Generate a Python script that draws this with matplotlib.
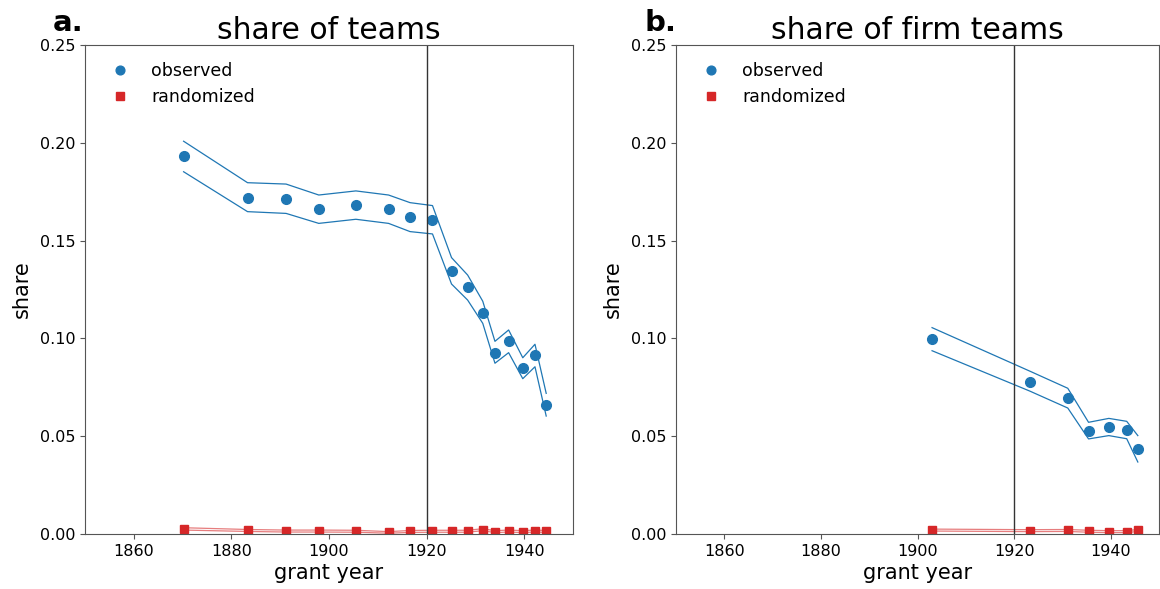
import matplotlib.pyplot as plt
import numpy as np

# panel a: share of teams
years_a = [1870.2, 1883.3, 1891.2, 1897.9, 1905.5, 1912.2, 1916.6, 1921.2,
           1925.1, 1928.4, 1931.5, 1934.0, 1936.8, 1939.7, 1942.2, 1944.5]
obs_a = [0.1931, 0.1719, 0.1714, 0.1660, 0.1680, 0.1660, 0.1619, 0.1607,
         0.1346, 0.1263, 0.1131, 0.0927, 0.0988, 0.0847, 0.0915, 0.0660]
obs_a_hi = [0.2008, 0.1796, 0.1789, 0.1733, 0.1754, 0.1733, 0.1694, 0.1679,
            0.1413, 0.1324, 0.1190, 0.0985, 0.1043, 0.0901, 0.0970, 0.0719]
obs_a_lo = [0.1852, 0.1648, 0.1639, 0.1588, 0.1609, 0.1588, 0.1546, 0.1534,
            0.1278, 0.1196, 0.1077, 0.0873, 0.0927, 0.0794, 0.0855, 0.0603]
rnd_a = [0.0026, 0.0018, 0.0015, 0.0015, 0.0014, 0.0008, 0.0013, 0.0014,
         0.0014, 0.0014, 0.0022, 0.0012, 0.0015, 0.0012, 0.0015, 0.0013]
rnd_a_hi = [0.0032, 0.0023, 0.0020, 0.0020, 0.0019, 0.0012, 0.0018, 0.0019,
            0.0019, 0.0019, 0.0027, 0.0017, 0.0020, 0.0017, 0.0020, 0.0018]
rnd_a_lo = [0.0020, 0.0013, 0.0010, 0.0010, 0.0009, 0.0004, 0.0008, 0.0009,
            0.0009, 0.0009, 0.0017, 0.0007, 0.0010, 0.0007, 0.0010, 0.0008]

# panel b: share of firm teams
years_b = [1903.0, 1923.2, 1931.1, 1935.4, 1939.6, 1943.3, 1945.6]
obs_b = [0.0995, 0.0779, 0.0694, 0.0528, 0.0549, 0.0532, 0.0436]
obs_b_hi = [0.1055, 0.0833, 0.0745, 0.0571, 0.0591, 0.0576, 0.0503]
obs_b_lo = [0.0937, 0.0731, 0.0644, 0.0486, 0.0503, 0.0487, 0.0368]
rnd_b = [0.0020, 0.0017, 0.0018, 0.0014, 0.0012, 0.0012, 0.0018]
rnd_b_hi = [0.0025, 0.0022, 0.0023, 0.0019, 0.0017, 0.0017, 0.0023]
rnd_b_lo = [0.0015, 0.0012, 0.0013, 0.0009, 0.0007, 0.0007, 0.0013]

panels = [
    ("a.", "share of teams", years_a, obs_a, obs_a_hi, obs_a_lo, rnd_a, rnd_a_hi, rnd_a_lo),
    ("b.", "share of firm teams", years_b, obs_b, obs_b_hi, obs_b_lo, rnd_b, rnd_b_hi, rnd_b_lo),
]

blue = "#1f77b4"
red = "#d62728"

fig = plt.figure(figsize=(11.6, 5.89), dpi=100)
positions = [[0.0733, 0.0934, 0.4207, 0.8302], [0.5828, 0.0934, 0.4164, 0.8302]]

for pos, (tag, title, yrs, obs, ohi, olo, rnd, rhi, rlo) in zip(positions, panels):
    ax = fig.add_axes(pos)
    ax.plot(yrs, ohi, color=blue, lw=0.9)
    ax.plot(yrs, olo, color=blue, lw=0.9)
    ax.plot(yrs, obs, "o", color=blue, ms=7, label="observed")
    ax.plot(yrs, rhi, color=red, lw=0.9, alpha=0.6)
    ax.plot(yrs, rlo, color=red, lw=0.9, alpha=0.6)
    ax.plot(yrs, rnd, "s", color=red, ms=6, label="randomized")
    ax.axvline(1920, color="#333333", lw=1)

    ax.set_xlim(1850, 1950)
    ax.set_ylim(0, 0.25)
    ax.set_xticks([1860, 1880, 1900, 1920, 1940])
    ax.set_yticks(np.arange(0, 0.26, 0.05))
    ax.set_yticklabels([f"{v:.2f}" for v in np.arange(0, 0.26, 0.05)])
    ax.tick_params(labelsize=11.5, color="#555555")
    for sp in ax.spines.values():
        sp.set_color("#555555")

    ax.set_xlabel("grant year", fontsize=15, labelpad=3)
    ax.set_ylabel("share", fontsize=15, labelpad=6)
    ax.set_title(title, fontsize=21.5, pad=3)
    ax.text(-0.066, 1.016, tag, transform=ax.transAxes, fontsize=21,
            fontweight="bold", va="bottom", ha="left")

    ax.legend(loc="upper left", frameon=False, fontsize=12.5,
              markerscale=0.9, handletextpad=0.8, borderaxespad=0.6,
              labelspacing=0.45)

fig.savefig("out.png", dpi=100)
